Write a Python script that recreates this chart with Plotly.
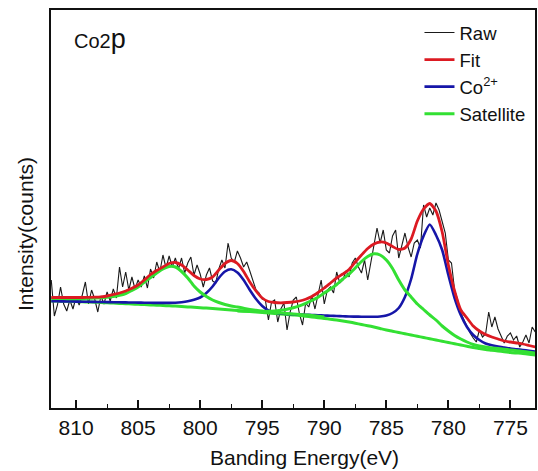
import numpy as np
import plotly.graph_objects as go

# ---------------- data (binding energy in eV, intensity in arbitrary counts) ----------------
E_RAW = np.round(np.arange(812.0, 772.99, -0.25), 2)     # 157 points
RAW = [
    128, 92, 103, 121, 104, 97, 108, 99, 111, 103,
    113, 126, 104, 118, 109, 96, 112, 104, 116, 107,
    119, 110, 141, 121, 136, 118, 131, 119, 128, 121,
    132, 120, 139, 130, 146, 136, 153, 140, 152, 141,
    150, 139, 150, 135, 145, 151, 133, 143, 134, 121,
    133, 140, 127, 125, 139, 148, 140, 165, 150, 146,
    157, 150, 141, 146, 137, 128, 118, 115, 109, 108,
    88, 106, 108, 86, 99, 105, 78, 96, 108, 111,
    94, 83, 105, 101, 112, 99, 112, 128, 104, 118,
    121, 115, 136, 125, 128, 137, 131, 145, 150, 141,
    135, 148, 128, 145, 162, 180, 165, 178, 158, 155,
    172, 178, 150, 164, 175, 161, 151, 165, 168, 160,
    203, 191, 200, 193, 205, 198, 187, 175, 148, 145,
    118, 108, 95, 88, 81, 75, 70, 66, 78, 71,
    74, 96, 81, 91, 79, 71, 65, 72, 75, 68,
    72, 61, 66, 73, 65, 81, 76,
]

E_FIT = np.round(np.arange(812.0, 772.99, -0.5), 2)      # 79 points
FIT = [
    110.5, 110.5, 110.5, 110.5, 110.5, 110.5, 110.6, 110.8, 111.2, 112,
    113.5, 115, 117, 119.7, 123, 128, 133.5, 137.5, 141, 144.5,
    145.5, 143, 138, 132.5, 129, 128.5, 131, 138, 144.5, 147.5,
    144.5, 136.5, 126, 117, 110, 106.5, 105.5, 105.2, 105.5, 106,
    107, 108.8, 111.5, 115.5, 120, 125, 130, 134, 138.5, 146,
    153, 159.5, 164, 166, 165, 161.5, 158.5, 160, 169, 187,
    199, 204.5, 197, 176, 143, 117, 98, 90, 82, 77,
    73.5, 71, 69, 67, 66, 65, 64, 62.5, 61,
]
CO2 = [
    106.8, 106.7, 106.6, 106.5, 106.4, 106.3, 106.2, 106.1, 106, 105.9,
    105.8, 105.7, 105.6, 105.5, 105.4, 105.3, 105.2, 105.1, 105.1, 105.1,
    105.3, 105.8, 106.7, 108.2, 110.5, 115, 121.5, 130, 136.5, 138.7,
    135.5, 128, 118, 109, 102, 97.5, 95.5, 94.5, 94, 93.8,
    93.5, 93.3, 93, 92.8, 92.5, 92.3, 92, 91.8, 91.5, 91.4,
    91.3, 91.2, 91.2, 91.5, 92.5, 95, 100, 111, 129, 154,
    172, 183.5, 173, 158, 133, 110, 93, 81, 73, 68,
    64.5, 62.7, 61.5, 60.5, 59.5, 58.8, 58, 57.3, 56.5,
]
BACKGROUND = [
    107, 106.9, 106.8, 106.6, 106.4, 106.2, 106, 105.8, 105.5, 105.2,
    104.9, 104.6, 104.3, 104, 103.7, 103.4, 103.1, 102.8, 102.5, 102.2,
    101.9, 101.5, 101.1, 100.7, 100.3, 99.9, 99.5, 99, 98.5, 98,
    97.5, 97, 96.5, 96, 95.5, 95, 94.5, 94, 93.5, 93,
    92.5, 91.8, 91, 90.3, 89.5, 88.8, 88, 87, 86, 84.8,
    83.5, 82.3, 81, 79.5, 78, 76.8, 75.5, 74.3, 73, 71.8,
    70.5, 69.3, 68, 66.8, 65.5, 64.3, 63, 61.8, 60.5, 59.5,
    58.5, 57.8, 57, 56.3, 55.5, 55, 54.5, 53.8, 53,
]

E_SAT1 = np.round(np.arange(812.0, 789.99, -0.5), 2)     # 45 points
SAT1 = [
    109.5, 109.5, 109.5, 109.5, 109.5, 109.5, 109.7, 110, 110.3, 110.8,
    111.5, 112.7, 114.5, 117.5, 121, 126, 130.5, 135, 139, 141.5,
    141, 136.5, 130, 122, 116, 111.5, 108, 105.5, 103.5, 102,
    101, 99.8, 98.5, 97.7, 97, 96.2, 95.5, 95, 94.5, 94,
    93.5, 93, 92.5, 91.8, 91,
]
E_SAT2 = np.round(np.arange(797.0, 772.99, -0.5), 2)     # 49 points
SAT2 = [
    97, 96.8, 96.6, 96.5, 96.5, 96.7, 97, 97.7, 98.7, 100.2,
    102.2, 104.7, 107.5, 110.7, 115, 119, 123.5, 129, 134, 140,
    146.5, 151.5, 154.2, 153, 148, 139.5, 128, 118, 111, 104,
    98.5, 93, 88, 82, 77, 72.5, 69, 66, 63.5, 62,
    61, 60, 59.5, 58.8, 58, 57.3, 56.5, 55.8, 55,
]

X_TICKS = [810, 805, 800, 795, 790, 785, 780, 775]
X_MINOR = [807.5, 802.5, 797.5, 792.5, 787.5, 782.5, 777.5]

assert len(E_RAW) == len(RAW)
assert len(E_FIT) == len(FIT) == len(CO2) == len(BACKGROUND)
assert len(E_SAT1) == len(SAT1) and len(E_SAT2) == len(SAT2)

# ---------------- styling ----------------
FONT = "Liberation Sans, Arial, sans-serif"
C_RAW = "#1a1a1a"
C_FIT = "#dc1a22"
C_CO = "#1616a8"
C_SAT = "#33e033"

W, H = 538, 471
ML, MR, MT, MB = 51, 1, 10, 63
PW, PH = W - ML - MR, H - MT - MB

fig = go.Figure()
fig.add_trace(go.Scatter(x=E_RAW, y=RAW, mode="lines", name="Raw",
                         line=dict(color=C_RAW, width=1.1), legendrank=1))
fig.add_trace(go.Scatter(x=E_FIT, y=BACKGROUND, mode="lines", name="Satellite",
                         line=dict(color=C_SAT, width=3, shape="spline", smoothing=0.6),
                         legendgroup="sat", showlegend=False))
fig.add_trace(go.Scatter(x=E_FIT, y=CO2, mode="lines", name="Co<sup>2+</sup>",
                         line=dict(color=C_CO, width=2.6, shape="spline", smoothing=0.6),
                         legendrank=3))
fig.add_trace(go.Scatter(x=E_SAT1, y=SAT1, mode="lines", name="Satellite",
                         line=dict(color=C_SAT, width=3, shape="spline", smoothing=0.6),
                         legendgroup="sat", legendrank=4))
fig.add_trace(go.Scatter(x=E_SAT2, y=SAT2, mode="lines", name="Satellite",
                         line=dict(color=C_SAT, width=3, shape="spline", smoothing=0.6),
                         legendgroup="sat", showlegend=False))
fig.add_trace(go.Scatter(x=E_FIT, y=FIT, mode="lines", name="Fit",
                         line=dict(color=C_FIT, width=2.8, shape="spline", smoothing=0.6),
                         legendrank=2))

def px_x(px):
    return (px - ML) / PW

def px_y(py):
    return (H - MB - py) / PH

fig.update_layout(
    width=W, height=H,
    margin=dict(l=ML, r=MR, t=MT, b=MB, pad=0),
    paper_bgcolor="white", plot_bgcolor="white",
    font=dict(family=FONT, size=20, color="#111"),
    showlegend=True,
    legend=dict(x=px_x(421), y=px_y(14), xanchor="left", yanchor="top",
                bgcolor="rgba(0,0,0,0)", borderwidth=0,
                font=dict(family=FONT, size=18.5, color="#111"),
                tracegroupgap=0, itemwidth=30),
    xaxis=dict(range=[812.02, 773.02], autorange=False,
               tickmode="array", tickvals=X_TICKS, ticktext=[str(t) for t in X_TICKS],
               ticks="inside", ticklen=8, tickwidth=1.5, tickcolor="#111",
               minor=dict(ticks="inside", ticklen=4, tickwidth=1.2, tickcolor="#111",
                          tickmode="array", tickvals=X_MINOR),
               showline=True, linecolor="#111", linewidth=1.6, mirror=True,
               showgrid=False, zeroline=False,
               tickfont=dict(family=FONT, size=21, color="#111")),
    yaxis=dict(range=[0, 398], autorange=False,
               showticklabels=False, ticks="",
               showline=True, linecolor="#111", linewidth=1.6, mirror=True,
               showgrid=False, zeroline=False),
    annotations=[
        dict(text="Banding Energy(eV)", x=px_x(306), y=px_y(457), xref="paper", yref="paper",
             xanchor="center", yanchor="middle", showarrow=False,
             font=dict(family=FONT, size=21, color="#111")),
        dict(text="Intensity(counts)", x=px_x(25), y=px_y(234), xref="paper", yref="paper",
             xanchor="center", yanchor="middle", showarrow=False, textangle=-90,
             font=dict(family=FONT, size=21, color="#111")),
        dict(text='Co2<span style="font-size:27px">p</span>', x=px_x(72), y=px_y(39),
             xref="paper", yref="paper", xanchor="left", yanchor="middle", showarrow=False,
             font=dict(family=FONT, size=20, color="#111")),
    ],
)

fig.write_html("out.html")
